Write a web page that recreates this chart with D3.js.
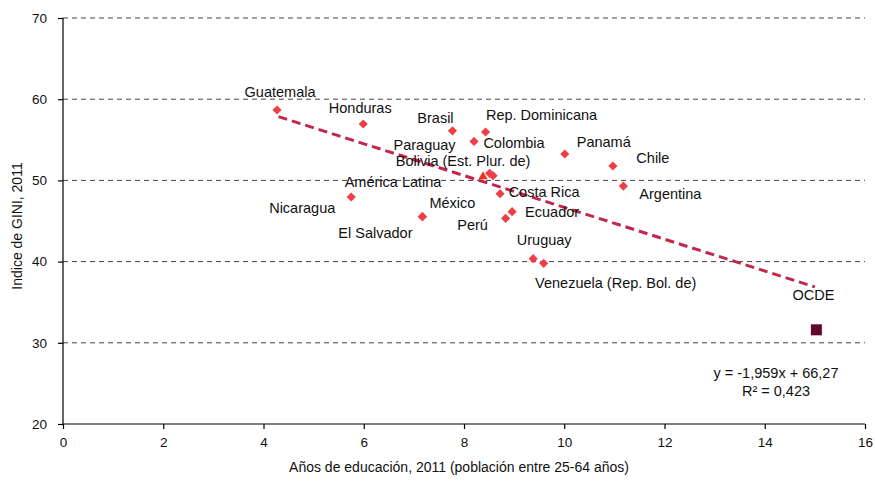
<!DOCTYPE html>
<html><head><meta charset="utf-8">
<script src="https://cdn.jsdelivr.net/npm/d3@7"></script>
<style>body{margin:0;background:#fff}text{font-family:"Liberation Sans",Arial,sans-serif;fill:#111}</style>
</head><body><svg id="c" width="875" height="481"></svg>
<script>
const countries = ["Guatemala","Honduras","Brasil","Rep. Dominicana","Colombia","Paraguay","Bolivia (Est. Plur. de)","Costa Rica","Nicaragua","México","El Salvador","Perú","Ecuador","Uruguay","Venezuela (Rep. Bol. de)","Panamá","Chile","Argentina"];
const educYears = [4.27,5.99,7.77,8.43,8.20,8.51,8.58,8.72,5.75,7.17,7.17,8.83,8.96,9.38,9.59,10.01,10.97,11.18];
const giniIndex = [58.67,56.95,56.1,55.96,54.8,50.87,50.58,48.36,47.96,45.53,45.53,45.33,46.15,40.36,39.79,53.25,51.77,49.3];
const regionName = ["América Latina"];
const regionX = [8.38];
const regionY = [50.46];
const oecdName = ["OCDE"];
const oecdX = [15.03];
const oecdY = [31.6];
const trendSlope = -1.959, trendIntercept = 66.27, trendR2 = 0.423;
const trendRange = [4.3, 15];
const xTicks = [0,2,4,6,8,10,12,14,16];
const yTicks = [20,30,40,50,60,70];
const xTitle = "Años de educación, 2011 (población entre 25-64 años)";
const yTitle = "Indice de GINI, 2011";

// label offsets (pixels, from marker to label centre) - layout only
const labelOffset = {
 "Guatemala":[3,-18],"Honduras":[-3,-16],"Brasil":[-17,-13],"Rep. Dominicana":[56,-17],
 "Colombia":[40,2],"Paraguay":[-65,-28],"Bolivia (Est. Plur. de)":[-30,-15],"Costa Rica":[44,-2],
 "Nicaragua":[-49,11],"México":[30,-14],"El Salvador":[-47,16],"Perú":[-33,7],"Ecuador":[40,0],
 "Uruguay":[11,-19],"Venezuela (Rep. Bol. de)":[72,20],"Panamá":[39,-12],"Chile":[40,-8],"Argentina":[47,8],
 "América Latina":[-90,5],"OCDE":[-3,-35]
};

const W=875,H=481, m={l:63,t:18,r:10,b:57};
const svg=d3.select("#c");
const x=d3.scaleLinear().domain([0,16]).range([m.l,W-m.r]);
const y=d3.scaleLinear().domain([20,70]).range([H-m.b,m.t]);

// gridlines
svg.append("g").selectAll("line").data(yTicks.filter(d=>d>20)).join("line")
 .attr("x1",x(0)).attr("x2",x(16)).attr("y1",d=>y(d)).attr("y2",d=>y(d))
 .attr("stroke","#444").attr("stroke-width",1).attr("stroke-dasharray","5,4");

// axes
const xa=svg.append("g").attr("transform",`translate(0,${y(20)})`)
 .call(d3.axisBottom(x).tickValues(xTicks).tickSize(5).tickPadding(8));
const ya=svg.append("g").attr("transform",`translate(${x(0)},0)`)
 .call(d3.axisLeft(y).tickValues(yTicks).tickSize(5).tickPadding(11));
[xa,ya].forEach(a=>{a.selectAll("path,line").attr("stroke","#000").attr("stroke-width",1.2);
 a.selectAll("text").attr("font-size","13.5px").attr("font-family","Liberation Sans, Arial").attr("fill","#111");});
xa.select(".domain").attr("d",`M${x(0)},0H${x(16)}`);
ya.select(".domain").attr("d",`M0,${y(20)}V${y(70)}`);

// axis titles
svg.append("text").attr("x",(x(0)+x(16))/2-5).attr("y",472).attr("text-anchor","middle")
 .attr("font-size","14px").text(xTitle);
svg.append("text").attr("transform",`translate(22,${(y(20)+y(70))/2+5}) rotate(-90)`)
 .attr("text-anchor","middle").attr("font-size","14px").text(yTitle);

// trend line
svg.append("line").attr("x1",x(trendRange[0])).attr("y1",y(trendSlope*trendRange[0]+trendIntercept))
 .attr("x2",x(trendRange[1])).attr("y2",y(trendSlope*trendRange[1]+trendIntercept))
 .attr("stroke","#c2274b").attr("stroke-width",3).attr("stroke-dasharray","9,5");

// country points
const pts=countries.map((c,i)=>({name:c,x:educYears[i],y:giniIndex[i]}));
svg.append("g").selectAll("path").data(pts).join("path")
 .attr("d",d3.symbol().type(d3.symbolSquare).size(42))
 .attr("transform",d=>`translate(${x(d.x)},${y(d.y)}) rotate(45)`)
 .attr("fill","#ee3e46");

// region triangle
const reg=regionName.map((c,i)=>({name:c,x:regionX[i],y:regionY[i]}));
svg.append("g").selectAll("path").data(reg).join("path")
 .attr("transform",d=>`translate(${x(d.x)},${y(d.y)})`)
 .attr("d",d3.symbol().type(d3.symbolTriangle).size(38))
 .attr("fill","#f2341c");

// OECD square
const oe=oecdName.map((c,i)=>({name:c,x:oecdX[i],y:oecdY[i]}));
svg.append("g").selectAll("rect").data(oe).join("rect")
 .attr("x",d=>x(d.x)-5.5).attr("y",d=>y(d.y)-5.5).attr("width",11).attr("height",11)
 .attr("fill","#5e0630");

// labels
const all=pts.concat(reg,oe);
svg.append("g").selectAll("text").data(all).join("text")
 .attr("x",d=>x(d.x)+labelOffset[d.name][0])
 .attr("y",d=>y(d.y)+labelOffset[d.name][1])
 .attr("text-anchor","middle").attr("dominant-baseline","central")
 .attr("font-size","14.5px").text(d=>d.name);

// equation
const fmt=v=>String(v).replace(".",",");
svg.append("text").attr("x",776).attr("y",373).attr("text-anchor","middle").attr("dominant-baseline","central")
 .attr("font-size","14.5px").text(`y = ${fmt(trendSlope)}x + ${fmt(trendIntercept)}`);
svg.append("text").attr("x",776).attr("y",391).attr("text-anchor","middle").attr("dominant-baseline","central")
 .attr("font-size","14.5px").text(`R² = ${fmt(trendR2)}`);
</script></body></html>
